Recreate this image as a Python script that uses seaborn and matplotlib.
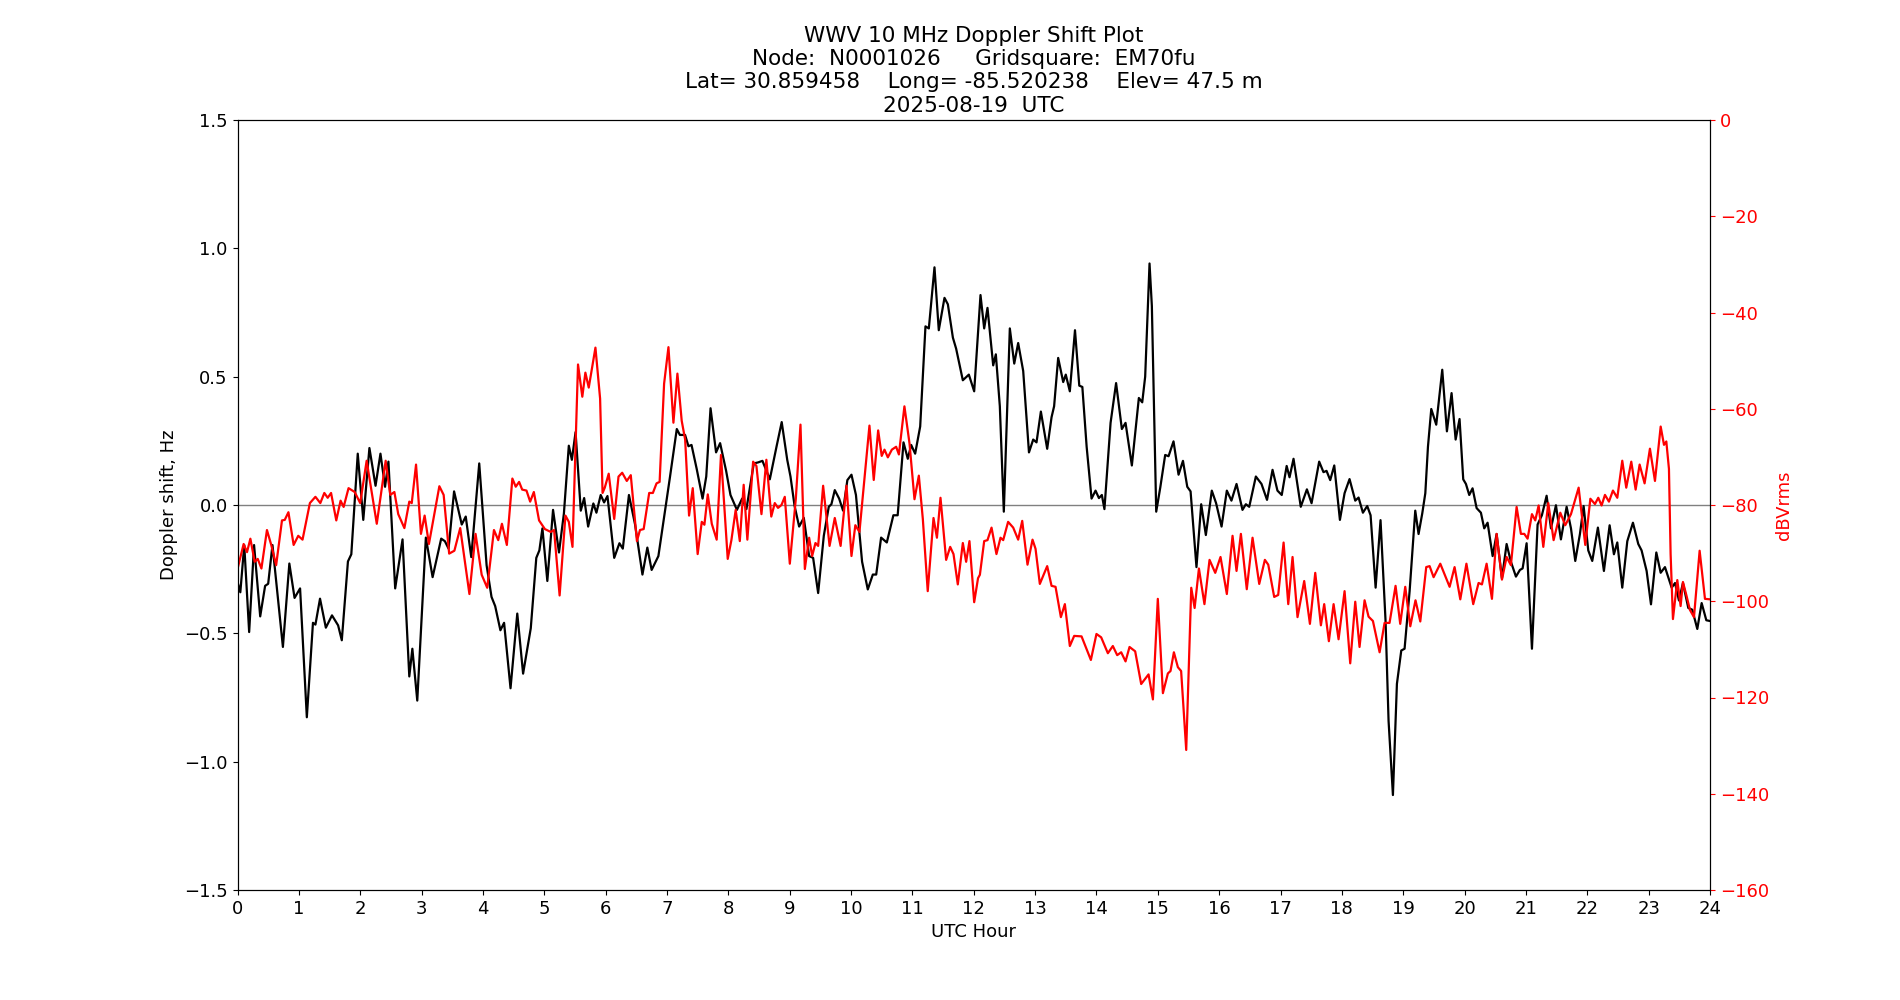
import matplotlib
matplotlib.use("Agg")
import matplotlib.pyplot as plt
import seaborn as sns

# Doppler shift (Hz) vs UTC hour
dop_hours = [
    0.0, 0.046, 0.11, 0.19, 0.27, 0.37, 0.45, 0.50, 0.57, 0.74, 0.845, 0.93, 1.02, 1.13, 1.23, 1.27,
    1.345, 1.44, 1.54, 1.64, 1.70, 1.80, 1.855, 1.96, 2.05, 2.15, 2.25, 2.33, 2.405, 2.46, 2.57, 2.69,
    2.80, 2.85, 2.93, 3.07, 3.18, 3.32, 3.38, 3.44, 3.53, 3.655, 3.72, 3.81, 3.94, 4.06, 4.14, 4.20,
    4.285, 4.345, 4.45, 4.56, 4.655, 4.78, 4.87, 4.92, 4.97, 5.05, 5.143, 5.24, 5.32, 5.40, 5.45, 5.51,
    5.595, 5.65, 5.715, 5.80, 5.85, 5.92, 5.975, 6.03, 6.14, 6.225, 6.28, 6.38, 6.48, 6.60, 6.68, 6.75,
    6.86, 6.96, 7.05, 7.16, 7.21, 7.295, 7.35, 7.40, 7.485, 7.58, 7.64, 7.71, 7.80, 7.866, 7.964, 8.035,
    8.14, 8.225, 8.295, 8.415, 8.486, 8.556, 8.676, 8.785, 8.87, 8.96, 9.013, 9.08, 9.154, 9.23, 9.317,
    9.382, 9.464, 9.556, 9.637, 9.68, 9.735, 9.806, 9.87, 9.94, 10.007, 10.08, 10.18, 10.273, 10.355,
    10.41, 10.49, 10.583, 10.69, 10.76, 10.855, 10.925, 10.98, 11.045, 11.127, 11.213, 11.268, 11.36,
    11.43, 11.523, 11.578, 11.66, 11.713, 11.822, 11.92, 12.007, 12.11, 12.17, 12.224, 12.317, 12.36,
    12.425, 12.49, 12.588, 12.66, 12.724, 12.806, 12.90, 12.969, 13.023, 13.094, 13.197, 13.268, 13.31,
    13.376, 13.458, 13.50, 13.566, 13.65, 13.72, 13.77, 13.84, 13.92, 13.985, 14.04, 14.088, 14.13,
    14.186, 14.23, 14.32, 14.414, 14.474, 14.577, 14.691, 14.746, 14.794, 14.865, 14.903, 14.974, 15.04,
    15.12, 15.175, 15.256, 15.338, 15.41, 15.48, 15.534, 15.63, 15.707, 15.783, 15.88, 15.95, 16.039,
    16.125, 16.2, 16.283, 16.38, 16.435, 16.49, 16.598, 16.69, 16.78, 16.87, 16.95, 17.02, 17.1, 17.147,
    17.212, 17.33, 17.43, 17.506, 17.63, 17.7, 17.75, 17.81, 17.876, 17.968, 18.044, 18.125, 18.218,
    18.272, 18.343, 18.413, 18.468, 18.55, 18.63, 18.712, 18.761, 18.832, 18.897, 18.968, 19.022, 19.104,
    19.196, 19.25, 19.31, 19.36, 19.403, 19.457, 19.538, 19.636, 19.712, 19.788, 19.854, 19.918, 19.978,
    20.022, 20.076, 20.13, 20.196, 20.266, 20.32, 20.375, 20.457, 20.522, 20.609, 20.685, 20.755, 20.837,
    20.902, 20.946, 21.011, 21.098, 21.19, 21.26, 21.337, 21.408, 21.489, 21.57, 21.663, 21.734, 21.804,
    21.88, 21.94, 22.016, 22.081, 22.173, 22.271, 22.364, 22.434, 22.489, 22.57, 22.652, 22.744, 22.831,
    22.885, 22.967, 23.038, 23.125, 23.196, 23.266, 23.375, 23.43, 23.494, 23.559, 23.646, 23.711,
    23.793, 23.864, 23.94, 24.0,
]
dop_values = [
    -0.30, -0.34, -0.156, -0.495, -0.156, -0.434, -0.315, -0.307, -0.156, -0.553, -0.228, -0.362, -0.325,
    -0.827, -0.459, -0.466, -0.365, -0.478, -0.43, -0.469, -0.527, -0.22, -0.192, 0.20, -0.058, 0.222,
    0.075, 0.20, 0.071, 0.169, -0.325, -0.134, -0.668, -0.56, -0.762, -0.127, -0.281, -0.131, -0.141,
    -0.17, 0.053, -0.076, -0.045, -0.203, 0.162, -0.235, -0.358, -0.394, -0.488, -0.459, -0.714, -0.423,
    -0.657, -0.48, -0.206, -0.177, -0.091, -0.296, -0.019, -0.185, -0.033, 0.231, 0.176, 0.284, -0.022,
    0.027, -0.084, 0.006, -0.03, 0.039, 0.01, 0.035, -0.206, -0.149, -0.17, 0.039, -0.076, -0.271, -0.166,
    -0.253, -0.199, -0.036, 0.111, 0.296, 0.273, 0.273, 0.229, 0.234, 0.14, 0.025, 0.111, 0.377, 0.205,
    0.241, 0.133, 0.039, -0.019, 0.025, -0.016, 0.162, 0.166, 0.172, 0.10, 0.227, 0.323, 0.176, 0.111,
    -0.004, -0.084, -0.05, -0.199, -0.206, -0.343, -0.12, -0.007, 0.003, 0.058, 0.025, -0.022, 0.097,
    0.118, 0.039, -0.221, -0.329, -0.271, -0.271, -0.127, -0.146, -0.04, -0.04, 0.244, 0.18, 0.234, 0.20,
    0.306, 0.696, 0.688, 0.926, 0.681, 0.807, 0.782, 0.652, 0.609, 0.486, 0.508, 0.443, 0.818, 0.688,
    0.768, 0.544, 0.587, 0.385, -0.026, 0.688, 0.551, 0.631, 0.522, 0.205, 0.255, 0.244, 0.364, 0.219,
    0.342, 0.385, 0.573, 0.479, 0.508, 0.443, 0.681, 0.465, 0.46, 0.227, 0.025, 0.056, 0.027, 0.039,
    -0.016, 0.169, 0.32, 0.475, 0.296, 0.32, 0.154, 0.417, 0.40, 0.50, 0.941, 0.775, -0.026, 0.068,
    0.195, 0.19, 0.248, 0.118, 0.172, 0.071, 0.053, -0.242, 0.003, -0.117, 0.056, 0.007, -0.084, 0.056,
    0.017, 0.082, -0.019, 0.003, -0.007, 0.111, 0.082, 0.02, 0.137, 0.056, 0.039, 0.152, 0.108, 0.18,
    -0.007, 0.061, 0.007, 0.169, 0.128, 0.133, 0.097, 0.154, -0.058, 0.046, 0.101, 0.017, 0.029, -0.03,
    -0.004, -0.04, -0.322, -0.059, -0.452, -0.841, -1.13, -0.697, -0.567, -0.56, -0.336, -0.022, -0.113,
    -0.033, 0.046, 0.227, 0.374, 0.313, 0.527, 0.287, 0.436, 0.255, 0.335, 0.10, 0.082, 0.039, 0.065,
    -0.012, -0.03, -0.091, -0.069, -0.199, -0.113, -0.286, -0.152, -0.221, -0.279, -0.253, -0.247,
    -0.149, -0.56, -0.076, -0.04, 0.036, -0.091, -0.001, -0.134, -0.007, -0.091, -0.218, -0.113, -0.004,
    -0.177, -0.218, -0.088, -0.257, -0.079, -0.192, -0.146, -0.322, -0.141, -0.069, -0.152, -0.177,
    -0.257, -0.387, -0.185, -0.264, -0.242, -0.322, -0.304, -0.372, -0.304, -0.401, -0.408, -0.483,
    -0.382, -0.449, -0.452,
]

# Signal level (dBVrms) vs UTC hour
db_hours = [
    0.0, 0.10, 0.155, 0.21, 0.28, 0.33, 0.39, 0.48, 0.55, 0.63, 0.725, 0.77, 0.83, 0.915, 0.99, 1.06,
    1.18, 1.27, 1.35, 1.415, 1.47, 1.525, 1.61, 1.68, 1.73, 1.81, 1.91, 2.00, 2.105, 2.27, 2.415, 2.49,
    2.557, 2.62, 2.72, 2.80, 2.84, 2.91, 2.99, 3.05, 3.12, 3.29, 3.36, 3.45, 3.535, 3.63, 3.78, 3.88,
    3.98, 4.07, 4.18, 4.25, 4.31, 4.39, 4.48, 4.535, 4.59, 4.64, 4.71, 4.77, 4.83, 4.915, 5.01, 5.105,
    5.16, 5.25, 5.345, 5.40, 5.46, 5.55, 5.62, 5.67, 5.725, 5.834, 5.91, 5.95, 5.986, 6.05, 6.14, 6.21,
    6.27, 6.345, 6.41, 6.51, 6.56, 6.62, 6.71, 6.77, 6.83, 6.88, 6.953, 7.024, 7.105, 7.17, 7.24, 7.296,
    7.36, 7.42, 7.50, 7.567, 7.61, 7.665, 7.73, 7.81, 7.88, 7.99, 8.05, 8.12, 8.187, 8.25, 8.31, 8.404,
    8.458, 8.54, 8.62, 8.70, 8.757, 8.81, 8.866, 8.92, 9.002, 9.10, 9.176, 9.247, 9.317, 9.366, 9.42,
    9.464, 9.545, 9.65, 9.735, 9.83, 9.926, 10.007, 10.07, 10.137, 10.30, 10.37, 10.442, 10.5, 10.545,
    10.60, 10.665, 10.735, 10.78, 10.87, 10.953, 11.034, 11.105, 11.17, 11.25, 11.344, 11.40, 11.458,
    11.55, 11.616, 11.67, 11.74, 11.822, 11.876, 11.93, 12.007, 12.07, 12.1, 12.17, 12.224, 12.29, 12.37,
    12.436, 12.48, 12.56, 12.643, 12.724, 12.79, 12.876, 12.958, 13.007, 13.077, 13.197, 13.268, 13.333,
    13.42, 13.485, 13.566, 13.637, 13.757, 13.909, 14.0, 14.077, 14.186, 14.267, 14.338, 14.403, 14.474,
    14.539, 14.631, 14.729, 14.849, 14.92, 15.0, 15.083, 15.164, 15.207, 15.262, 15.327, 15.38, 15.463,
    15.545, 15.6, 15.67, 15.76, 15.843, 15.936, 16.022, 16.125, 16.218, 16.283, 16.354, 16.45, 16.544,
    16.653, 16.745, 16.8, 16.897, 16.962, 17.05, 17.126, 17.196, 17.277, 17.386, 17.479, 17.566, 17.658,
    17.712, 17.788, 17.865, 17.946, 18.044, 18.136, 18.218, 18.288, 18.37, 18.435, 18.506, 18.615,
    18.696, 18.777, 18.875, 18.951, 19.033, 19.115, 19.2, 19.278, 19.375, 19.43, 19.495, 19.604, 19.756,
    19.837, 19.93, 20.03, 20.141, 20.228, 20.283, 20.359, 20.446, 20.522, 20.609, 20.685, 20.755, 20.848,
    20.918, 20.973, 21.027, 21.098, 21.152, 21.207, 21.283, 21.364, 21.451, 21.56, 21.641, 21.734,
    21.859, 21.967, 22.05, 22.125, 22.179, 22.233, 22.288, 22.353, 22.418, 22.489, 22.57, 22.635, 22.717,
    22.788, 22.853, 22.934, 23.021, 23.103, 23.196, 23.25, 23.288, 23.331, 23.358, 23.396, 23.467,
    23.521, 23.559, 23.614, 23.673, 23.739, 23.831, 23.918, 24.0,
]
db_values = [
    -93.3, -88.1, -89.8, -87.0, -91.8, -91.2, -93.2, -85.2, -88.3, -92.5, -83.2, -83.1, -81.5, -88.3,
    -86.4, -87.2, -79.6, -78.3, -79.6, -77.5, -78.5, -77.5, -83.2, -79.1, -80.4, -76.5, -77.3, -79.6,
    -70.8, -83.9, -70.8, -77.9, -77.3, -81.9, -84.8, -79.3, -79.6, -71.6, -86.0, -82.2, -88.1, -76.1,
    -77.9, -90.1, -89.5, -84.8, -98.5, -86.0, -94.5, -97.2, -85.2, -87.3, -83.9, -88.3, -74.5, -76.2,
    -75.2, -76.8, -77.0, -79.3, -77.3, -83.2, -85.0, -85.6, -85.2, -98.8, -82.2, -83.5, -88.7, -50.8,
    -57.5, -52.5, -55.6, -47.3, -57.9, -77.5, -76.4, -73.5, -82.9, -74.1, -73.3, -75.0, -73.8, -87.5,
    -85.2, -85.0, -77.5, -77.5, -75.5, -75.2, -54.8, -47.2, -62.9, -52.7, -62.5, -66.4, -82.2, -76.5,
    -90.2, -83.5, -84.1, -77.8, -83.9, -87.2, -69.6, -91.2, -87.3, -81.0, -87.5, -75.8, -87.2, -71.0,
    -71.9, -81.9, -70.6, -82.4, -79.6, -80.6, -80.0, -78.3, -92.2, -78.7, -63.3, -93.3, -86.8, -90.6,
    -87.9, -88.5, -76.0, -88.5, -82.7, -88.5, -76.0, -90.6, -84.2, -85.6, -63.5, -74.8, -64.5, -69.8,
    -68.5, -70.1, -68.5, -67.9, -69.5, -59.5, -67.2, -78.8, -73.9, -82.9, -97.9, -82.7, -86.8, -78.5,
    -91.4, -88.7, -90.2, -96.5, -87.9, -91.8, -87.5, -100.2, -95.2, -94.5, -87.5, -87.3, -84.7, -90.2,
    -86.8, -87.3, -83.5, -84.7, -87.2, -83.3, -92.4, -87.2, -89.1, -96.4, -92.7, -96.8, -97.0, -103.3,
    -100.6, -109.3, -107.2, -107.3, -112.2, -106.8, -107.5, -110.8, -109.3, -111.2, -110.6, -112.5,
    -109.5, -110.4, -117.2, -115.2, -120.4, -99.5, -119.1, -115.0, -114.5, -110.6, -113.7, -114.5,
    -130.9, -97.2, -101.4, -93.2, -100.6, -91.4, -94.1, -90.8, -98.5, -86.4, -93.7, -86.0, -97.5, -86.8,
    -96.4, -91.4, -92.4, -99.1, -98.7, -87.8, -100.6, -90.8, -103.3, -95.8, -104.7, -94.1, -105.0,
    -100.6, -108.3, -100.6, -107.9, -97.9, -112.9, -100.1, -109.5, -99.8, -103.2, -104.1, -110.6,
    -104.5, -104.5, -96.8, -104.7, -97.0, -105.2, -99.8, -104.2, -92.9, -92.7, -95.0, -92.2, -97.0,
    -92.9, -99.6, -92.2, -100.6, -96.2, -96.5, -92.2, -99.5, -86.0, -95.5, -90.8, -92.5, -80.4, -86.0,
    -86.0, -87.0, -81.9, -83.2, -80.1, -88.7, -79.6, -87.3, -81.6, -84.2, -81.9, -76.4, -88.3, -78.7,
    -79.8, -78.5, -80.1, -77.9, -79.3, -77.0, -78.5, -70.8, -76.4, -71.0, -76.8, -71.6, -75.5, -68.3,
    -75.0, -63.7, -67.5, -66.8, -72.5, -90.2, -103.7, -95.6, -101.0, -96.0, -98.7, -101.8, -103.3,
    -89.5, -99.5, -99.6,
]

hour_ticks = list(range(0, 25))

fig, ax = plt.subplots(figsize=(19, 10), dpi=100)

ax.axhline(0, color="gray", linewidth=1)
sns.lineplot(x=dop_hours, y=dop_values, color="black", linewidth=1.6, estimator=None, ax=ax)
ax.set_xlim(0, 24)
ax.set_ylim(-1.5, 1.5)
ax.set_xticks(hour_ticks)
ax.set_xlabel("UTC Hour", fontsize=13)
ax.set_ylabel("Doppler shift, Hz", fontsize=13)
ax.tick_params(labelsize=13)
ax.set_title("WWV 10 MHz Doppler Shift Plot\n"
             "Node:  N0001026     Gridsquare:  EM70fu\n"
             "Lat= 30.859458    Long= -85.520238    Elev= 47.5 m\n"
             "2025-08-19  UTC", fontsize=15.5)

# second axis for the signal level
ax2 = ax.twinx()
sns.lineplot(x=db_hours, y=db_values, color="red", linewidth=1.6, estimator=None, ax=ax2)
ax2.set_ylim(-160, 0)
ax2.set_ylabel("dBVrms", color="red", fontsize=13)
ax2.tick_params(axis="y", labelcolor="red", color="red", labelsize=13)

plt.savefig("out.png")
